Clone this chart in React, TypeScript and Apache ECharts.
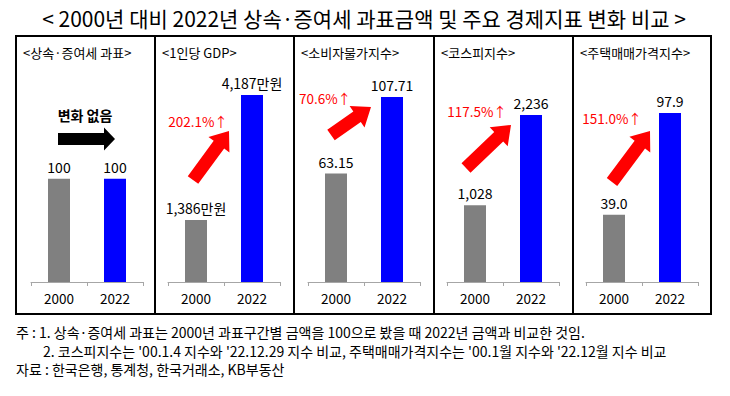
import React, { useEffect, useRef } from "react";
import * as echarts from "echarts";

const mainTitle = "< 2000년 대비 2022년 상속·증여세 과표금액 및 주요 경제지표 변화 비교 >";
const panelTitles = ["<상속·증여세 과표>", "<1인당 GDP>", "<소비자물가지수>", "<코스피지수>", "<주택매매가격지수>"];
const years = ["2000", "2022"];
const values2000 = [100, 1386, 63.15, 1028, 39.0];
const values2022 = [100, 4187, 107.71, 2236, 97.9];
const labels2000 = ["100", "1,386만원", "63.15", "1,028", "39.0"];
const labels2022 = ["100", "4,187만원", "107.71", "2,236", "97.9"];
const changeLabels = ["변화 없음", "202.1%↑", "70.6%↑", "117.5%↑", "151.0%↑"];
const notes = [
  "주 : 1. 상속·증여세 과표는 2000년 과표구간별 금액을 100으로 봤을 때 2022년 금액과 비교한 것임.",
  "2. 코스피지수는 '00.1.4 지수와 '22.12.29 지수 비교, 주택매매가격지수는 '00.1월 지수와 '22.12월 지수 비교",
  "자료 : 한국은행, 통계청, 한국거래소, KB부동산",
];

// layout (not data)
const FONT = '"Noto Sans CJK KR", "Noto Sans", sans-serif';
const boxX = [16, 155, 294, 434, 573, 711];
const boxTop = 36;
const boxBottom = 314;
const gridLeft = [31, 168, 308, 447, 586];
const gridWidth = 112;
const gridTop = 90;
const gridBottomY = 282;
const yMax = [186, 4299, 111.8, 2571, 111.2];
const arrows = [
  { tail: [58, 139], tip: [115, 139], w: 6, hw: 11.5, hl: 11, color: "#000000" },
  { tail: [193, 180], tip: [229, 131], w: 6.5, hw: 13, hl: 17, color: "#FF0000" },
  { tail: [331, 135], tip: [371, 107], w: 6.5, hw: 13, hl: 17, color: "#FF0000" },
  { tail: [466, 168], tip: [511, 125], w: 6.5, hw: 13, hl: 17, color: "#FF0000" },
  { tail: [612, 182], tip: [650, 131], w: 6.5, hw: 13, hl: 17, color: "#FF0000" },
];
const changePos = [
  [85, 115],
  [198, 121],
  [325, 98],
  [477, 111],
  [612, 118],
];

function arrowPoints(a: any) {
  const [x1, y1] = a.tail;
  const [x2, y2] = a.tip;
  const dx = x2 - x1;
  const dy = y2 - y1;
  const len = Math.sqrt(dx * dx + dy * dy);
  const ux = dx / len;
  const uy = dy / len;
  const nx = -uy;
  const ny = ux;
  const bx = x2 - ux * a.hl;
  const by = y2 - uy * a.hl;
  return [
    [x1 + nx * a.w, y1 + ny * a.w],
    [bx + nx * a.w, by + ny * a.w],
    [bx + nx * a.hw, by + ny * a.hw],
    [x2, y2],
    [bx - nx * a.hw, by - ny * a.hw],
    [bx - nx * a.w, by - ny * a.w],
    [x1 - nx * a.w, y1 - ny * a.w],
  ];
}

export default function App() {
  const ref = useRef<HTMLDivElement>(null);
  useEffect(() => {
    if (!ref.current) return;
    const chart = echarts.init(ref.current, undefined, { renderer: "svg" });

    const grids = gridLeft.map((l) => ({
      left: l,
      width: gridWidth,
      top: gridTop,
      height: gridBottomY - gridTop,
    }));
    const xAxes = gridLeft.map((_, i) => ({
      type: "category",
      gridIndex: i,
      data: years,
      axisLine: { show: true, lineStyle: { color: "#A6A6A6", width: 1 } },
      axisTick: { show: true, length: 4, lineStyle: { color: "#A6A6A6" } },
      axisLabel: { fontSize: 13.5, color: "#000", margin: 9, fontFamily: FONT },
    }));
    const yAxes = gridLeft.map((_, i) => ({
      type: "value",
      gridIndex: i,
      min: 0,
      max: yMax[i],
      show: false,
      splitLine: { show: false },
    }));
    const series = gridLeft.map((_, i) => ({
      type: "bar",
      xAxisIndex: i,
      yAxisIndex: i,
      barWidth: 22,
      label: {
        show: true,
        position: "top",
        distance: 5,
        fontSize: 14,
        color: "#000",
        fontFamily: FONT,
      },
      data: [
        {
          value: values2000[i],
          itemStyle: { color: "#808080" },
          label: { formatter: labels2000[i] },
        },
        {
          value: values2022[i],
          itemStyle: { color: "#0000FF" },
          label: { formatter: labels2022[i] },
        },
      ],
    }));

    const graphic: any[] = [];
    graphic.push({
      type: "text",
      x: 364,
      y: 18,
      style: {
        text: mainTitle,
        fontSize: 21,
        fontFamily: FONT,
        fill: "#000",
        textAlign: "center",
        textVerticalAlign: "middle",
      },
    });
    for (let i = 0; i < 5; i++) {
      graphic.push({
        type: "rect",
        shape: { x: boxX[i], y: boxTop, width: boxX[i + 1] - boxX[i], height: boxBottom - boxTop },
        style: { fill: "none", stroke: "#000", lineWidth: 2 },
      });
      graphic.push({
        type: "text",
        x: boxX[i] + 7,
        y: 52,
        style: {
          text: panelTitles[i],
          fontSize: 13,
          fontFamily: FONT,
          fill: "#000",
          textAlign: "left",
          textVerticalAlign: "middle",
        },
      });
      graphic.push({
        type: "polygon",
        shape: { points: arrowPoints(arrows[i]) },
        style: { fill: arrows[i].color },
      });
      graphic.push({
        type: "text",
        x: changePos[i][0],
        y: changePos[i][1],
        style: {
          text: changeLabels[i],
          fontSize: i === 0 ? 14 : 13.5,
          fontWeight: i === 0 ? "bold" : "normal",
          fontFamily: FONT,
          fill: i === 0 ? "#000" : "#FF0000",
          textAlign: "center",
          textVerticalAlign: "middle",
        },
      });
    }
    const noteX = [16, 43, 16];
    const noteY = [332, 351, 369];
    notes.forEach((t, i) => {
      graphic.push({
        type: "text",
        x: noteX[i],
        y: noteY[i],
        style: {
          text: t,
          fontSize: 14,
          fontFamily: FONT,
          fill: "#000",
          textAlign: "left",
          textVerticalAlign: "middle",
        },
      });
    });

    chart.setOption({
      animation: false,
      backgroundColor: "#fff",
      textStyle: { fontFamily: FONT },
      grid: grids,
      xAxis: xAxes,
      yAxis: yAxes,
      series,
      graphic,
    } as any);
    return () => chart.dispose();
  }, []);
  return (
    <div
      ref={ref}
      style={{ position: "absolute", left: 0, top: 0, width: 730, height: 396 }}
    />
  );
}
